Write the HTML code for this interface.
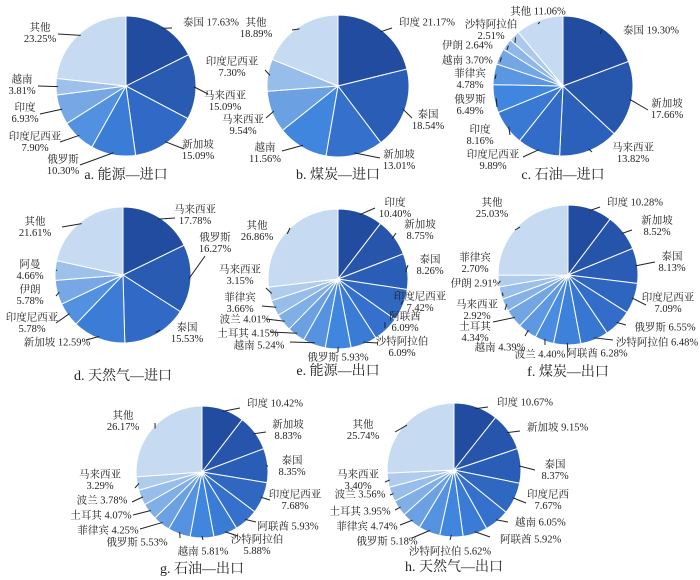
<!DOCTYPE html>
<html><head><meta charset="utf-8">
<style>
html,body{margin:0;padding:0;background:#fff;}
svg{display:block;}
text{font-family:"Liberation Serif","Noto Serif CJK SC",serif;fill:#222;}
</style></head>
<body>
<svg id="chart" width="700" height="580" viewBox="0 0 700 580" xmlns="http://www.w3.org/2000/svg"></svg>
<script>
// ---- data ----
const catsA = ["泰国","马来西亚","新加坡","俄罗斯","印度尼西亚","印度","越南","其他"];
const valsA = [17.63,15.09,15.09,10.30,7.90,6.93,3.81,23.25];
const catsB = ["印度","泰国","新加坡","越南","马来西亚","印度尼西亚","其他"];
const valsB = [21.17,18.54,13.01,11.56,9.54,7.30,18.89];
const catsC = ["泰国","新加坡","马来西亚","印度尼西亚","印度","俄罗斯","菲律宾","越南","伊朗","沙特阿拉伯","其他"];
const valsC = [19.30,17.66,13.82,9.89,8.16,6.49,4.78,3.70,2.64,2.51,11.06];
const catsD = ["马来西亚","俄罗斯","泰国","新加坡","印度尼西亚","伊朗","阿曼","其他"];
const valsD = [17.78,16.27,15.53,12.59,5.78,5.78,4.66,21.61];
const catsE = ["印度","新加坡","泰国","印度尼西亚","阿联酋","沙特阿拉伯","俄罗斯","越南","土耳其","波兰","菲律宾","马来西亚","其他"];
const valsE = [10.40,8.75,8.26,7.42,6.09,6.09,5.93,5.24,4.15,4.01,3.66,3.15,26.86];
const catsF = ["印度","新加坡","泰国","印度尼西亚","俄罗斯","沙特阿拉伯","阿联酋","波兰","越南","土耳其","马来西亚","伊朗","菲律宾","其他"];
const valsF = [10.28,8.52,8.13,7.09,6.55,6.48,6.28,4.40,4.39,4.34,2.92,2.91,2.70,25.03];
const catsG = ["印度","新加坡","泰国","印度尼西亚","阿联酋","沙特阿拉伯","越南","俄罗斯","菲律宾","土耳其","波兰","马来西亚","其他"];
const valsG = [10.42,8.83,8.35,7.68,5.93,5.88,5.81,5.53,4.25,4.07,3.78,3.29,26.17];
const catsH = ["印度","新加坡","泰国","印度尼西","越南","阿联酋","沙特阿拉伯","俄罗斯","菲律宾","土耳其","波兰","马来西亚","其他"];
const valsH = [10.67,9.15,8.37,7.67,6.05,5.92,5.62,5.18,4.74,3.95,3.56,3.40,25.74];
const titles = ["a. 能源—进口","b. 煤炭—进口","c. 石油—进口","d. 天然气—进口","e. 能源—出口","f. 煤炭—出口","g. 石油—出口","h. 天然气—出口"];

// ---- layout (label positions: [x, y, anchor, twoLine, lineEndX, lineEndY]) ----
const layout = [
 {cx:126,cy:86,r:70,ty:176,lab:[
  [183,23,"start",0,172,28],[225,96,"middle",1,208,94],[198,145,"middle",1,184,149],[63,160,"middle",1,80,165],
  [35,137,"middle",1,60,142],[25,108,"middle",1,40,114],[22,80,"middle",1,38,86],[40,28,"middle",1,58,34]]},
 {cx:338,cy:86,r:71,ty:176,lab:[
  [399,23,"start",0,392,28],[428,115,"middle",1,412,118],[399,155,"middle",1,380,158],[265,148,"middle",1,282,151],
  [243,120,"middle",1,266,118],[232,62,"middle",1,265,70],[256,23,"middle",1,292,30]]},
 {cx:563,cy:86,r:70,ty:176,lab:[
  [623,31,"start",0,600,34],[667,104,"middle",1,648,110],[633,148,"middle",1,592,152],[493,155,"middle",1,523,157],
  [480,130,"middle",1,510,135],[470,100,"middle",1,497,107],[470,74,"middle",1,495,79],[442,61,"start",0,500,62],
  [442,46,"start",0,507,50],[491,25,"middle",1,515,43],[538,12,"middle",0,538,24]]},
 {cx:123,cy:275,r:68,ty:377,lab:[
  [195,210,"middle",1,175,218],[215,238,"middle",1,205,256],[187,328,"middle",1,160,330],[57,343,"middle",0,86,340],
  [32,318,"middle",1,56,323],[30,290,"middle",1,56,296],[30,265,"middle",1,56,270],[35,222,"middle",1,62,227]]},
 {cx:338,cy:279,r:70,ty:372,lab:[
  [395,203,"middle",1,375,208],[420,225,"middle",1,396,233],[430,260,"middle",1,408,265],[420,297,"middle",1,403,301],
  [405,317,"middle",1,385,322],[402,342,"middle",1,378,343],[338,358,"middle",0,338,352],[259,346,"middle",0,290,342],
  [248,334,"middle",0,270,332],[245,320,"middle",0,266,319],[240,298,"middle",1,262,306],[240,270,"middle",1,266,288],[257,226,"middle",1,290,228]]},
 {cx:568,cy:275,r:70,ty:373,lab:[
  [607,203,"start",0,600,207],[657,221,"middle",1,632,230],[672,257,"middle",1,655,262],[668,298,"middle",1,646,305],
  [665,328,"middle",0,626,325],[657,343,"middle",0,613,340],[597,354,"middle",0,568,352],[540,355,"middle",0,545,345],
  [500,348,"middle",0,525,336],[475,327,"middle",1,493,322],[477,305,"middle",1,505,310],[476,284,"middle",0,503,296],
  [475,258,"middle",1,498,284],[492,203,"middle",1,515,230]]},
 {cx:202,cy:472,r:66,ty:570,lab:[
  [247,404,"start",0,240,408],[288,425,"middle",1,266,432],[292,461,"middle",1,268,466],[295,495,"middle",1,270,500],
  [288,527,"middle",0,256,522],[257,540,"middle",1,238,536],[203,552,"middle",0,203,540],[137,543,"middle",0,180,538],
  [108,531,"middle",0,140,529],[101,516,"middle",0,133,515],[102,501,"middle",0,132,502],[100,475,"middle",1,135,488],[123,416,"middle",1,155,423]]},
 {cx:454,cy:470,r:67,ty:568,lab:[
  [497,403,"start",0,488,407],[527,428,"start",0,520,431],[555,465,"middle",1,535,470],[548,495,"middle",1,526,503],
  [515,523,"start",0,508,522],[500,540,"start",0,490,537],[450,552,"middle",0,450,540],[387,542,"middle",0,412,538],
  [367,527,"middle",0,400,525],[360,512,"middle",0,395,510],[360,495,"middle",0,390,495],[358,475,"middle",1,385,482],[363,425,"middle",1,395,432]]}
];
const allCats=[catsA,catsB,catsC,catsD,catsE,catsF,catsG,catsH];
const allVals=[valsA,valsB,valsC,valsD,valsE,valsF,valsG,valsH];

const NS="http://www.w3.org/2000/svg";
const svg=document.getElementById('chart');
function mk(tag,attrs,parent){const e=document.createElementNS(NS,tag);for(const k in attrs)e.setAttribute(k,attrs[k]);(parent||svg).appendChild(e);return e;}
const stops=[[0,[33,76,160]],[0.3,[50,108,200]],[0.5,[64,134,222]],[0.75,[128,174,230]],[1,[198,219,241]]];
function color(t){for(let i=1;i<stops.length;i++){if(t<=stops[i][0]){const a=stops[i-1],b=stops[i];const u=(t-a[0])/(b[0]-a[0]);const c=a[1].map((v,j)=>Math.round(v+(b[1][j]-v)*u));return `rgb(${c[0]},${c[1]},${c[2]})`;}}return 'rgb(198,219,241)';}
function pt(cx,cy,r,a){return [cx+r*Math.sin(a),cy-r*Math.cos(a)];}

allVals.forEach((vals,ci)=>{
  const L=layout[ci],cats=allCats[ci];
  const g=mk('g',{});
  
  
  const total=vals.reduce((s,v)=>s+v,0);
  let a0=0;
  vals.forEach((v,i)=>{
    const a1=a0+v/total*2*Math.PI;
    const p0=pt(L.cx,L.cy,L.r,a0),p1=pt(L.cx,L.cy,L.r,a1);
    const large=(a1-a0)>Math.PI?1:0;
    const path=mk('path',{d:`M${L.cx},${L.cy}L${p0[0]},${p0[1]}A${L.r},${L.r} 0 ${large} 1 ${p1[0]},${p1[1]}Z`,fill:color(vals.length>1?i/(vals.length-1):0),stroke:'#fff','stroke-width':1},g);
    
    
    const lab=L.lab[i];
    if(lab){
      const am=(a0+a1)/2;const ps=pt(L.cx,L.cy,L.r*0.97,am);
      const ln=mk('line',{x1:ps[0],y1:ps[1],x2:lab[4],y2:lab[5],stroke:'#222','stroke-width':1},g);
      
      
      const pct=v.toFixed(2)+'%';
      if(lab[3]){
        const t1=mk('text',{x:lab[0],y:lab[1],'text-anchor':lab[2],'dominant-baseline':'middle','font-size':10.5},g);t1.textContent=cats[i];
        
        
        const t2=mk('text',{x:lab[0],y:lab[1]+11.5,'text-anchor':lab[2],'dominant-baseline':'middle','font-size':10.5},g);t2.textContent=pct;
        
        
      }else{
        const t=mk('text',{x:lab[0],y:lab[1],'text-anchor':lab[2],'dominant-baseline':'middle','font-size':10.5},g);t.textContent=cats[i]+' '+pct;
        
        
      }
    }
    a0=a1;
  });
  const tt=mk('text',{x:L.cx,y:L.ty,'text-anchor':'middle','dominant-baseline':'middle','font-size':14},g);
  tt.textContent=titles[ci];
  
  
});
</script>
</body></html>
